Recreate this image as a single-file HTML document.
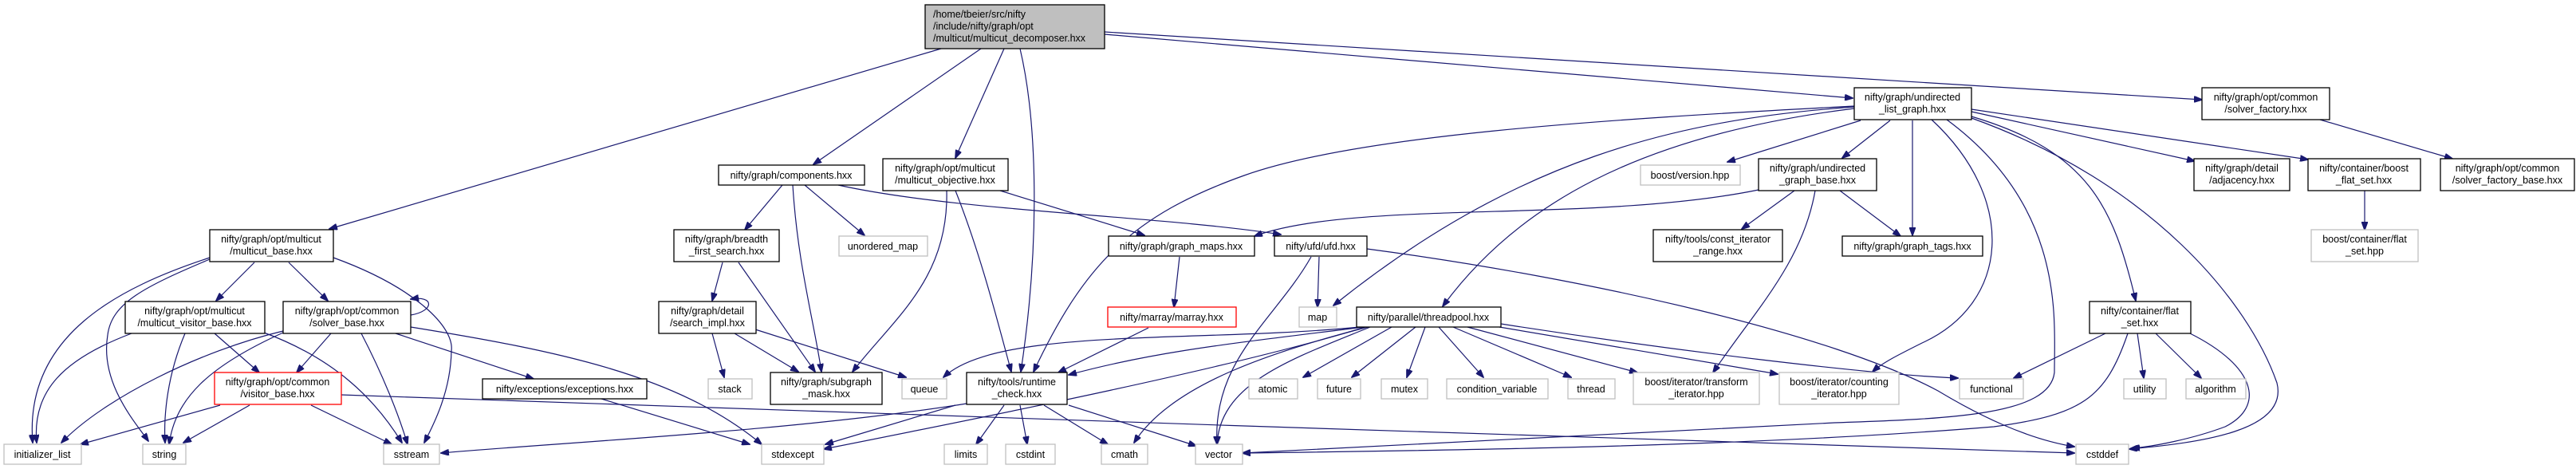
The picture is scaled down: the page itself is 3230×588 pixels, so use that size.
<!DOCTYPE html>
<html><head><meta charset="utf-8"><style>
html,body{margin:0;padding:0;background:#fff;}
svg{display:block;}
text{font-family:"Liberation Sans",sans-serif;font-size:12.5px;fill:#000;}
.b{fill:#fff;stroke:#000;stroke-width:1.3;}
.g{fill:#fff;stroke:#bfbfbf;stroke-width:1.3;}
.r{fill:#fff;stroke:#ff0000;stroke-width:1.3;}
.e{fill:none;stroke:#191970;stroke-width:1.2;marker-end:url(#a);}
</style></head><body>
<svg width="3230" height="588" viewBox="0 0 3230 588" xmlns="http://www.w3.org/2000/svg">
<defs><marker id="a" markerWidth="11" markerHeight="8" refX="10" refY="4" orient="auto" markerUnits="userSpaceOnUse"><path d="M0,0 L11,4 L0,8 z" fill="#191970" stroke="#191970"/></marker></defs>

<!-- edges -->
<g>
<path class="e" d="M1180,61 L413,287"/>
<path class="e" d="M1230,61 L1020,206"/>
<path class="e" d="M1259,61 L1198,198"/>
<path class="e" d="M1279,61 C1300,150 1305,300 1280,466"/>
<path class="e" d="M1385,43 L2323,123"/>
<path class="e" d="M1385,40 L2761,125"/>
<path class="e" d="M2325,133 C2000,150 1700,170 1560,220 C1420,270 1360,330 1296,466"/>
<path class="e" d="M1051,232 C1200,265 1450,270 1606,294"/>
<path class="e" d="M1254,239 L1435,295"/>
<path class="e" d="M2325,134 C2100,150 1900,200 1672,383"/>
<path class="e" d="M2325,136 C2050,170 1900,260 1809,384"/>
<path class="e" d="M2205,238 C2000,280 1700,250 1573,296"/>
<path class="e" d="M2333,151 L2166,203"/>
<path class="e" d="M2370,151 L2310,198"/>
<path class="e" d="M2398,151 L2398,295"/>
<path class="e" d="M2472,140 L2752,202"/>
<path class="e" d="M2472,137 L2894,200"/>
<path class="e" d="M2472,146 C2620,190 2650,260 2678,377"/>
<path class="e" d="M2472,148 C2700,230 2820,380 2855,480 C2870,540 2760,555 2670,563"/>
<path class="e" d="M2422,150 C2530,250 2520,380 2410,430 C2380,445 2360,455 2348,466"/>
<path class="e" d="M2441,150 C2590,260 2576,400 2576,467 C2570,520 2450,525 2300,530 C2000,545 1700,560 1558,568"/>
<path class="e" d="M2909,150 L3075,199"/>
<path class="e" d="M2965,239 L2965,288"/>
<path class="e" d="M2250,239 L2184,287"/>
<path class="e" d="M2307,239 L2383,296"/>
<path class="e" d="M2276,239 C2260,330 2200,390 2148,467"/>
<path class="e" d="M1479,322 L1472,385"/>
<path class="e" d="M1440,411 L1327,467"/>
<!-- threadpool -->
<path class="e" d="M1705,410 C1500,430 1250,410 1183,473"/>
<path class="e" d="M1710,410 C1550,430 1450,440 1340,470"/>
<path class="e" d="M1712,410 C1550,460 1250,520 1033,563"/>
<path class="e" d="M1715,410 C1600,440 1470,480 1422,555"/>
<path class="e" d="M1718,410 C1620,450 1530,480 1526,557"/>
<path class="e" d="M1745,410 L1634,473"/>
<path class="e" d="M1775,410 L1695,473"/>
<path class="e" d="M1787,410 L1764,473"/>
<path class="e" d="M1804,410 L1860,473"/>
<path class="e" d="M1822,410 L1970,473"/>
<path class="e" d="M1840,410 L2053,467"/>
<path class="e" d="M1880,410 L2229,469"/>
<path class="e" d="M1882,406 C2100,440 2350,470 2455,474"/>
<!-- ufd -->
<path class="e" d="M1654,322 L1652,385"/>
<path class="e" d="M1644,322 C1600,400 1520,450 1526,557"/>
<path class="e" d="M1714,312 C2000,350 2300,420 2430,490 C2480,520 2540,550 2601,560"/>
<!-- flat_set -->
<path class="e" d="M2640,418 L2525,474"/>
<path class="e" d="M2680,418 L2688,474"/>
<path class="e" d="M2703,418 L2760,474"/>
<path class="e" d="M2746,418 C2830,460 2840,510 2790,535 C2750,550 2700,560 2673,562"/>
<path class="e" d="M2668,418 C2640,500 2610,520 2500,535 C2200,560 1800,565 1558,568"/>
<!-- components etc -->
<path class="e" d="M981,232 L934,288"/>
<path class="e" d="M994,232 C1000,330 1020,400 1030,466"/>
<path class="e" d="M1009,232 L1084,295"/>
<path class="e" d="M1187,239 C1190,350 1120,400 1069,466"/>
<path class="e" d="M1198,239 C1230,320 1250,400 1268,466"/>
<path class="e" d="M906,329 L893,377"/>
<path class="e" d="M926,329 L1022,466"/>
<path class="e" d="M893,418 L908,473"/>
<path class="e" d="M921,418 L1001,466"/>
<path class="e" d="M947,413 L1136,473"/>
<!-- runtime_check -->
<path class="e" d="M1212,506 C1000,540 700,555 553,568"/>
<path class="e" d="M1198,508 L1035,557"/>
<path class="e" d="M1259,508 L1224,557"/>
<path class="e" d="M1279,508 L1288,557"/>
<path class="e" d="M1309,508 L1389,557"/>
<path class="e" d="M1340,508 L1500,559"/>
<!-- left cluster -->
<path class="e" d="M263,323 C150,360 30,420 41,555"/>
<path class="e" d="M263,325 C180,360 140,380 135,420 C125,480 170,530 186,553"/>
<path class="e" d="M319,329 L271,377"/>
<path class="e" d="M362,329 L411,377"/>
<path class="e" d="M418,323 C520,360 570,410 566,440 C565,490 545,530 532,555"/>
<path class="e" d="M165,418 C80,450 40,490 46,555"/>
<path class="e" d="M232,418 C210,470 205,520 207,555"/>
<path class="e" d="M269,418 L325,467"/>
<path class="e" d="M331,417 C420,450 470,500 504,555"/>
<path class="e" d="M415,418 L372,467"/>
<path class="e" d="M355,415 C250,440 130,500 77,555"/>
<path class="e" d="M355,417 C260,460 220,500 212,557"/>
<path class="e" d="M453,418 C480,470 500,520 511,557"/>
<path class="e" d="M496,418 L669,475"/>
<path class="e" d="M515,410 C700,440 850,470 955,557"/>
<path class="e" d="M515,395 C545,390 545,370 515,375" />
<path class="e" d="M754,500 L940,557"/>
<path class="e" d="M276,508 L101,557"/>
<path class="e" d="M313,508 L230,555"/>
<path class="e" d="M390,508 L491,557"/>
<path class="e" d="M428,495 C1000,520 2000,545 2601,568"/>
</g>

<!-- nodes -->
<g>
<rect x="1160" y="6" width="225" height="55" fill="#bfbfbf" stroke="#000" stroke-width="1.3"/>
<text x="1170" y="22">/home/tbeier/src/nifty</text><text x="1170" y="37">/include/nifty/graph/opt</text><text x="1170" y="52">/multicut/multicut_decomposer.hxx</text>

<rect class="b" x="2325" y="110" width="147" height="40"/><text x="2398" y="126" text-anchor="middle">nifty/graph/undirected</text><text x="2398" y="141" text-anchor="middle">_list_graph.hxx</text>
<rect class="b" x="2761" y="110" width="160" height="40"/><text x="2841" y="126" text-anchor="middle">nifty/graph/opt/common</text><text x="2841" y="141" text-anchor="middle">/solver_factory.hxx</text>

<rect class="b" x="901" y="207" width="183" height="25"/><text x="992" y="224" text-anchor="middle">nifty/graph/components.hxx</text>
<rect class="b" x="1107" y="199" width="157" height="40"/><text x="1185" y="215" text-anchor="middle">nifty/graph/opt/multicut</text><text x="1185" y="230" text-anchor="middle">/multicut_objective.hxx</text>
<rect class="g" x="2057" y="207" width="125" height="25"/><text x="2119" y="224" text-anchor="middle">boost/version.hpp</text>
<rect class="b" x="2205" y="199" width="148" height="40"/><text x="2279" y="215" text-anchor="middle">nifty/graph/undirected</text><text x="2279" y="230" text-anchor="middle">_graph_base.hxx</text>
<rect class="b" x="2751" y="199" width="120" height="40"/><text x="2811" y="215" text-anchor="middle">nifty/graph/detail</text><text x="2811" y="230" text-anchor="middle">/adjacency.hxx</text>
<rect class="b" x="2894" y="199" width="141" height="40"/><text x="2964" y="215" text-anchor="middle">nifty/container/boost</text><text x="2964" y="230" text-anchor="middle">_flat_set.hxx</text>
<rect class="b" x="3060" y="199" width="168" height="40"/><text x="3144" y="215" text-anchor="middle">nifty/graph/opt/common</text><text x="3144" y="230" text-anchor="middle">/solver_factory_base.hxx</text>

<rect class="b" x="263" y="288" width="155" height="40"/><text x="340" y="304" text-anchor="middle">nifty/graph/opt/multicut</text><text x="340" y="319" text-anchor="middle">/multicut_base.hxx</text>
<rect class="b" x="845" y="288" width="132" height="40"/><text x="911" y="304" text-anchor="middle">nifty/graph/breadth</text><text x="911" y="319" text-anchor="middle">_first_search.hxx</text>
<rect class="g" x="1052" y="296" width="111" height="25"/><text x="1107" y="313" text-anchor="middle">unordered_map</text>
<rect class="b" x="1390" y="296" width="183" height="25"/><text x="1481" y="313" text-anchor="middle">nifty/graph/graph_maps.hxx</text>
<rect class="b" x="1598" y="296" width="116" height="25"/><text x="1656" y="313" text-anchor="middle">nifty/ufd/ufd.hxx</text>
<rect class="b" x="2073" y="288" width="162" height="40"/><text x="2154" y="304" text-anchor="middle">nifty/tools/const_iterator</text><text x="2154" y="319" text-anchor="middle">_range.hxx</text>
<rect class="b" x="2310" y="296" width="176" height="25"/><text x="2398" y="313" text-anchor="middle">nifty/graph/graph_tags.hxx</text>
<rect class="g" x="2898" y="288" width="134" height="40"/><text x="2965" y="304" text-anchor="middle">boost/container/flat</text><text x="2965" y="319" text-anchor="middle">_set.hpp</text>

<rect class="b" x="157" y="378" width="175" height="40"/><text x="244" y="394" text-anchor="middle">nifty/graph/opt/multicut</text><text x="244" y="409" text-anchor="middle">/multicut_visitor_base.hxx</text>
<rect class="b" x="355" y="378" width="160" height="40"/><text x="435" y="394" text-anchor="middle">nifty/graph/opt/common</text><text x="435" y="409" text-anchor="middle">/solver_base.hxx</text>
<rect class="b" x="826" y="378" width="122" height="40"/><text x="887" y="394" text-anchor="middle">nifty/graph/detail</text><text x="887" y="409" text-anchor="middle">/search_impl.hxx</text>
<rect class="r" x="1389" y="385" width="161" height="25"/><text x="1469" y="402" text-anchor="middle">nifty/marray/marray.hxx</text>
<rect class="g" x="1629" y="385" width="47" height="25"/><text x="1652" y="402" text-anchor="middle">map</text>
<rect class="b" x="1701" y="385" width="181" height="25"/><text x="1791" y="402" text-anchor="middle">nifty/parallel/threadpool.hxx</text>
<rect class="b" x="2620" y="378" width="127" height="40"/><text x="2683" y="394" text-anchor="middle">nifty/container/flat</text><text x="2683" y="409" text-anchor="middle">_set.hxx</text>

<rect class="r" x="269" y="467" width="159" height="40"/><text x="348" y="483" text-anchor="middle">nifty/graph/opt/common</text><text x="348" y="498" text-anchor="middle">/visitor_base.hxx</text>
<rect class="b" x="605" y="475" width="206" height="25"/><text x="708" y="492" text-anchor="middle">nifty/exceptions/exceptions.hxx</text>
<rect class="g" x="888" y="475" width="55" height="25"/><text x="915" y="492" text-anchor="middle">stack</text>
<rect class="b" x="966" y="467" width="140" height="40"/><text x="1036" y="483" text-anchor="middle">nifty/graph/subgraph</text><text x="1036" y="498" text-anchor="middle">_mask.hxx</text>
<rect class="g" x="1131" y="475" width="56" height="25"/><text x="1159" y="492" text-anchor="middle">queue</text>
<rect class="b" x="1212" y="467" width="126" height="40"/><text x="1275" y="483" text-anchor="middle">nifty/tools/runtime</text><text x="1275" y="498" text-anchor="middle">_check.hxx</text>
<rect class="g" x="1566" y="475" width="61" height="25"/><text x="1596" y="492" text-anchor="middle">atomic</text>
<rect class="g" x="1652" y="475" width="54" height="25"/><text x="1679" y="492" text-anchor="middle">future</text>
<rect class="g" x="1732" y="475" width="58" height="25"/><text x="1761" y="492" text-anchor="middle">mutex</text>
<rect class="g" x="1814" y="475" width="127" height="25"/><text x="1877" y="492" text-anchor="middle">condition_variable</text>
<rect class="g" x="1966" y="475" width="59" height="25"/><text x="1995" y="492" text-anchor="middle">thread</text>
<rect class="g" x="2048" y="467" width="158" height="40"/><text x="2127" y="483" text-anchor="middle">boost/iterator/transform</text><text x="2127" y="498" text-anchor="middle">_iterator.hpp</text>
<rect class="g" x="2231" y="467" width="150" height="40"/><text x="2306" y="483" text-anchor="middle">boost/iterator/counting</text><text x="2306" y="498" text-anchor="middle">_iterator.hpp</text>
<rect class="g" x="2457" y="475" width="80" height="25"/><text x="2497" y="492" text-anchor="middle">functional</text>
<rect class="g" x="2663" y="475" width="53" height="25"/><text x="2689" y="492" text-anchor="middle">utility</text>
<rect class="g" x="2741" y="475" width="75" height="25"/><text x="2778" y="492" text-anchor="middle">algorithm</text>

<rect class="g" x="5" y="557" width="97" height="25"/><text x="53" y="574" text-anchor="middle">initializer_list</text>
<rect class="g" x="179" y="557" width="54" height="25"/><text x="206" y="574" text-anchor="middle">string</text>
<rect class="g" x="481" y="557" width="70" height="25"/><text x="516" y="574" text-anchor="middle">sstream</text>
<rect class="g" x="955" y="557" width="78" height="25"/><text x="994" y="574" text-anchor="middle">stdexcept</text>
<rect class="g" x="1184" y="557" width="54" height="25"/><text x="1211" y="574" text-anchor="middle">limits</text>
<rect class="g" x="1261" y="557" width="62" height="25"/><text x="1292" y="574" text-anchor="middle">cstdint</text>
<rect class="g" x="1381" y="557" width="58" height="25"/><text x="1410" y="574" text-anchor="middle">cmath</text>
<rect class="g" x="1499" y="557" width="59" height="25"/><text x="1528" y="574" text-anchor="middle">vector</text>
<rect class="g" x="2603" y="557" width="66" height="25"/><text x="2636" y="574" text-anchor="middle">cstddef</text>
</g>
</svg>
</body></html>
